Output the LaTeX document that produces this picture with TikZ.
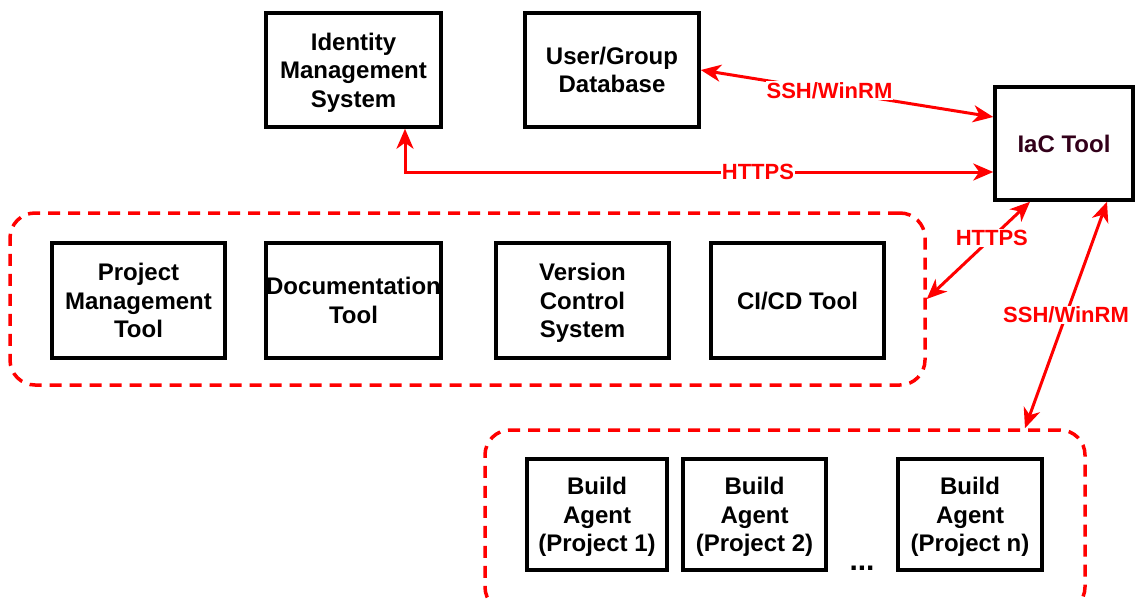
\documentclass[tikz,border=0pt]{standalone}
\usepackage{fontspec}
\setmainfont{Liberation Sans}
\usetikzlibrary{arrows.meta}
\definecolor{arrred}{RGB}{255,0,0}
\definecolor{iactext}{RGB}{51,0,26}
\tikzset{
  box/.style={draw=black, line width=3.5pt, fill=white, align=center,
    font=\fontsize{24}{28.5}\selectfont\bfseries, inner sep=0pt, text depth=-6pt},
  grp/.style={draw=arrred, line width=3.5pt, dashed, dash pattern=on 12pt off 8pt,
    rounded corners=25pt, inner sep=0pt},
  conn/.style={draw=arrred, line width=3pt,
    {Stealth[length=20pt,width=17pt,inset=6pt]}-{Stealth[length=20pt,width=17pt,inset=6pt]}},
  lbl/.style={fill=white, text=arrred, font=\fontsize{22}{26}\selectfont\bfseries,
    inner sep=1pt}
}
\begin{document}
\begin{tikzpicture}[x=1pt,y=-1pt]
\useasboundingbox (0,0) rectangle (1135,599);
% groups
\node[grp, minimum width=915pt, minimum height=172pt] (g1) at (467.5,299) {};
\node[grp, minimum width=600pt, minimum height=182pt] (g2) at (785,521) {};
% top boxes
\node[box, minimum width=175pt, minimum height=114pt] (idm) at (353.5,70) {Identity\\Management\\System};
\node[box, minimum width=174pt, minimum height=114pt] (db) at (612,70) {User/Group\\Database};
\node[box, minimum width=138pt, minimum height=113pt, text=iactext] (iac) at (1064,143.5) {IaC Tool};
% group 1 boxes
\node[box, minimum width=173pt, minimum height=115pt] (pm) at (138.5,300.5) {Project\\Management\\Tool};
\node[box, minimum width=173pt, minimum height=115pt] (doc) at (353.5,300.5) {Documentation\\Tool};
\node[box, minimum width=173pt, minimum height=115pt] (vcs) at (582.5,300.5) {Version\\Control\\System};
\node[box, minimum width=173pt, minimum height=115pt] (cicd) at (797.5,300.5) {CI/CD Tool};
% group 2 boxes
\node[box, minimum width=140pt, minimum height=111pt] (ba1) at (597,514.5) {Build\\Agent\\(Project 1)};
\node[box, minimum width=143pt, minimum height=111pt] (ba2) at (754.5,514.5) {Build\\Agent\\(Project 2)};
\node[box, minimum width=144pt, minimum height=111pt] (ban) at (970,514.5) {Build\\Agent\\(Project n)};
\node[font=\fontsize{30}{32}\selectfont\bfseries, inner sep=0pt] (dots) at (862,568) {...};
% connectors
\draw[conn] (db.east) -- node[lbl, pos=0.44] {SSH/WinRM} ([yshift=26.5pt]iac.west);
\draw[conn] ([xshift=51.5pt]idm.south) |- node[lbl, pos=0.80] {HTTPS} ([yshift=-28.5pt]iac.west);
\draw[conn] ([xshift=-34pt]iac.south) -- node[lbl, pos=0.37] {HTTPS} (g1.east);
\draw[conn] ([xshift=43pt]iac.south) -- node[lbl, pos=0.5] {SSH/WinRM} ([xshift=240pt]g2.north);
\end{tikzpicture}
\end{document}
